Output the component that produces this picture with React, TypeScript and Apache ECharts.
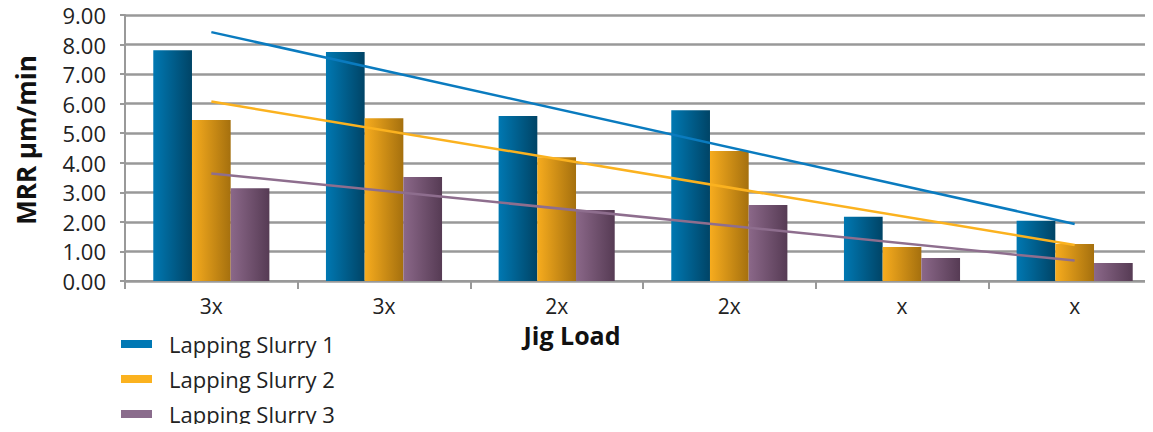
import React, { useEffect, useRef } from "react";
import * as echarts from "echarts";

const categories = ["3x", "3x", "2x", "2x", "x", "x"];
const slurry1 = [7.81, 7.75, 5.58, 5.78, 2.17, 2.04];
const slurry2 = [5.45, 5.51, 4.19, 4.4, 1.15, 1.25];
const slurry3 = [3.14, 3.52, 2.4, 2.57, 0.78, 0.61];
// trend line end points (first and last category)
const trend1 = [8.42, null, null, null, null, 1.93];
const trend2 = [6.07, null, null, null, null, 1.22];
const trend3 = [3.64, null, null, null, null, 0.69];
const seriesNames = ["Lapping Slurry 1", "Lapping Slurry 2", "Lapping Slurry 3"];

const FONT = "'Open Sans', sans-serif";
const W = 1172;

export default function App() {
  const ref = useRef<HTMLDivElement>(null);
  useEffect(() => {
    if (!ref.current) return;
    const chart = echarts.init(ref.current, undefined, { renderer: "svg" });
    const grad = (a: string, b: string) =>
      new echarts.graphic.LinearGradient(0, 0, 1, 0, [
        { offset: 0, color: a },
        { offset: 1, color: b },
      ]);
    const barColors = [
      grad("#0078B2", "#004466"),
      grad("#F7AC1E", "#A5700E"),
      grad("#8B6889", "#563B54"),
    ];
    const legendColors = ["#0078B4", "#FBB21F", "#8A6C8C"];
    const lineColors = ["#0A7BBF", "#FBB21F", "#8E6E8E"];
    const bars = [slurry1, slurry2, slurry3].map((d, i) => ({
      name: seriesNames[i],
      type: "bar",
      data: d,
      barWidth: 38.7,
      barGap: "0%",
      itemStyle: { color: barColors[i] },
      z: 2,
    }));
    const trends = [trend1, trend2, trend3].map((d, i) => ({
      name: "Trend " + (i + 1),
      type: "line",
      data: d,
      connectNulls: true,
      symbol: "none",
      lineStyle: { color: lineColors[i], width: 2.5 },
      z: 5,
    }));
    chart.setOption({
      animation: false,
      color: legendColors,
      grid: { left: 125, right: W - 125 - 1036, top: 15, bottom: 151, containLabel: false },
      legend: {
        data: seriesNames.map((n, i) => ({ name: n, itemStyle: { color: legendColors[i] } })),
        orient: "vertical",
        left: 121,
        top: 333,
        padding: 0,
        icon: "rect",
        itemWidth: 31,
        itemHeight: 8,
        itemGap: 13,
        textStyle: {
          fontFamily: FONT,
          fontSize: 22,
          lineHeight: 22,
          color: "#222",
          padding: [0, 0, 0, 12],
        },
      },
      xAxis: {
        type: "category",
        data: categories,
        axisLine: { lineStyle: { color: "#999", width: 2 } },
        axisTick: { show: true, length: 8, lineStyle: { color: "#999", width: 2 } },
        axisLabel: { fontFamily: FONT, fontSize: 21, color: "#222", margin: 14 },
      },
      yAxis: {
        type: "value",
        min: 0,
        max: 9,
        interval: 1,
        axisLine: { show: true, lineStyle: { color: "#999", width: 2 } },
        axisTick: { show: true, length: 5, lineStyle: { color: "#999", width: 2 } },
        axisLabel: {
          fontFamily: FONT,
          fontSize: 22,
          color: "#222",
          margin: 19,
          formatter: (v: number) => v.toFixed(2),
        },
        splitLine: { lineStyle: { color: "#999", width: 2.5 } },
      },
      graphic: [
        {
          type: "text",
          x: 572,
          y: 335,
          style: {
            text: "Jig Load",
            fontFamily: FONT,
            fontSize: 25,
            fontWeight: "bold",
            fill: "#111",
            textAlign: "center",
            textVerticalAlign: "middle",
          },
        },
        {
          type: "text",
          x: 26,
          y: 140,
          rotation: Math.PI / 2,
          style: {
            text: "MRR µm/min",
            fontFamily: FONT,
            fontSize: 26,
            fontWeight: "bold",
            fill: "#111",
            textAlign: "center",
            textVerticalAlign: "middle",
          },
        },
      ],
      series: [...bars, ...trends],
    });
    return () => chart.dispose();
  }, []);
  return (
    <div style={{ width: 1153, height: 432, margin: -8, overflow: "hidden" }}>
      <div ref={ref} style={{ width: W, height: 432 }} />
    </div>
  );
}
